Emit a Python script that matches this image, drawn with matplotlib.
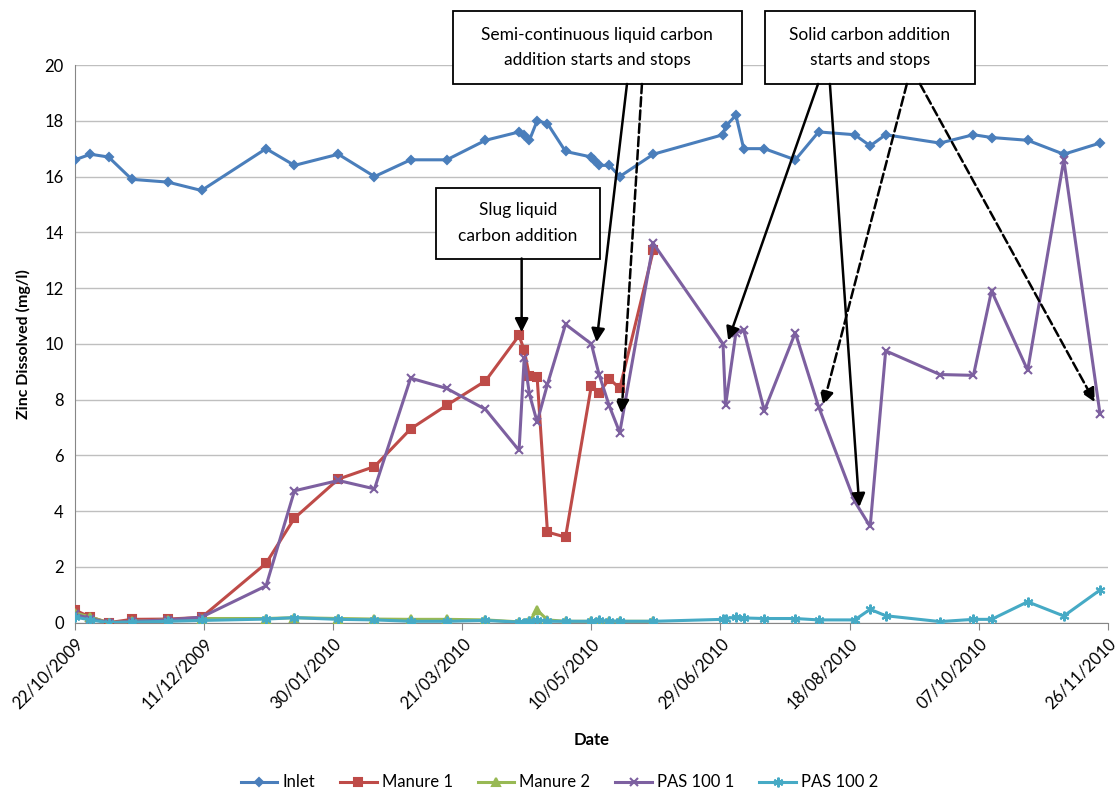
import matplotlib
matplotlib.use("Agg")
import matplotlib.pyplot as plt
import matplotlib.dates as mdates
from matplotlib.patches import Rectangle
import numpy as np
import pandas as pd

plt.rcParams['font.family'] = ['Lato', 'DejaVu Sans']

# sampling dates (shared by every series, NaN = no sample)
dates = ["2009-10-22", "2009-10-28", "2009-11-04", "2009-11-13", "2009-11-27", "2009-12-10",
         "2010-01-04", "2010-01-15", "2010-02-01", "2010-02-15", "2010-03-01", "2010-03-15",
         "2010-03-30", "2010-04-12", "2010-04-14", "2010-04-16", "2010-04-19", "2010-04-23",
         "2010-04-30", "2010-05-10", "2010-05-11", "2010-05-13", "2010-05-17", "2010-05-21",
         "2010-06-03", "2010-06-30", "2010-07-01", "2010-07-05", "2010-07-08", "2010-07-16",
         "2010-07-28", "2010-08-06", "2010-08-20", "2010-08-26", "2010-09-01", "2010-09-22",
         "2010-10-05", "2010-10-12", "2010-10-26", "2010-11-09", "2010-11-23"]
nan = np.nan

inlet = [16.6, 16.8, 16.7, 15.9, 15.8, 15.5, 17.0, 16.4, 16.8, 16.0, 16.6, 16.6,
         17.3, 17.6, 17.5, 17.3, 18.0, 17.9, 16.9, 16.7, 16.6, 16.4, 16.4, 16.0,
         16.8, 17.5, 17.8, 18.2, 17.0, 17.0, 16.6, 17.6, 17.5, 17.1, 17.5, 17.2,
         17.5, 17.4, 17.3, 16.8, 17.2]
manure1 = [0.45, 0.2, 0.0, 0.12, 0.13, 0.19, 2.13, 3.75, 5.15, 5.6, 6.95, 7.8,
           8.67, 10.3, 9.77, 8.83, 8.8, 3.25, 3.07, 8.5, nan, 8.25, 8.75, 8.4,
           13.35, nan, nan, nan, nan, nan, nan, nan, nan, nan, nan, nan,
           nan, nan, nan, nan, nan]
manure2 = [0.35, 0.2, 0.0, 0.05, 0.1, 0.15, 0.15, 0.18, 0.15, 0.13, 0.12, 0.12,
           0.1, 0.03, 0.0, 0.05, 0.45, 0.1, 0.05, 0.05, nan, 0.05, 0.05, 0.05,
           0.05, nan, nan, nan, nan, nan, nan, nan, nan, nan, nan, nan,
           nan, nan, nan, nan, nan]
pas1001 = [0.3, 0.15, 0.0, 0.05, 0.1, 0.2, 1.32, 4.73, 5.1, 4.8, 8.77, 8.4,
           7.65, 6.18, 9.5, 8.2, 7.2, 8.55, 10.7, 10.0, nan, 8.9, 7.76, 6.82,
           13.6, 10.0, 7.8, 10.4, 10.5, 7.6, 10.4, 7.75, 4.35, 3.45, 9.75, 8.9,
           8.87, 11.9, 9.05, 16.6, 7.5]
pas1002 = [0.2, 0.1, 0.0, 0.02, 0.05, 0.08, 0.13, 0.18, 0.12, 0.1, 0.05, 0.05,
           0.08, 0.02, 0.0, 0.05, 0.1, 0.05, 0.05, 0.05, nan, 0.08, 0.06, 0.05,
           0.05, 0.12, 0.15, 0.2, 0.17, 0.15, 0.15, 0.1, 0.1, 0.48, 0.25, 0.04,
           0.12, 0.12, 0.75, 0.24, 1.17]

tick_labels = ["22/10/2009", "11/12/2009", "30/01/2010", "21/03/2010", "10/05/2010",
               "29/06/2010", "18/08/2010", "07/10/2010", "26/11/2010"]

series = [
    ("Inlet", inlet, "#4a7ebb", "D", 4.5),
    ("Manure 1", manure1, "#be4b48", "s", 6),
    ("Manure 2", manure2, "#98b954", "^", 6),
    ("PAS 100 1", pas1001, "#7d60a0", "x", 6),
    ("PAS 100 2", pas1002, "#46aac5", (6, 2, 0), 7),
]

x = pd.to_datetime(dates)
start = pd.Timestamp("2009-10-22")

def dnum(day):
    return mdates.date2num(start + pd.Timedelta(days=day))

fig = plt.figure(figsize=(11.19, 7.92), dpi=100)
ax = fig.add_axes([75 / 1119, 1 - 622.7 / 792, (1107.7 - 75) / 1119, (622.7 - 65) / 792])

for name, vals, col, mk, ms in series:
    v = np.array(vals, dtype=float)
    ok = ~np.isnan(v)
    ax.plot(x[ok], v[ok], color=col, lw=2.2, marker=mk, ms=ms, mew=1.5,
            mec=col, mfc=col, label=name, zorder=3)

ticks = pd.to_datetime(tick_labels, format="%d/%m/%Y")
ax.set_xlim(ticks[0], ticks[-1])
ax.set_xticks(ticks)
ax.set_xticklabels(tick_labels, rotation=45, ha="right", rotation_mode="anchor", fontsize=12)
ax.set_ylim(0, 20)
ax.set_yticks(range(0, 21, 2))
ax.tick_params(axis="y", labelsize=12, length=0, pad=8)
ax.tick_params(axis="x", length=5, color="#868686", pad=4)
ax.grid(axis="y", color="#bfbfbf", lw=1)
ax.set_axisbelow(True)
for s in ["top", "right"]:
    ax.spines[s].set_visible(False)
ax.spines["left"].set_color("#868686")
ax.spines["bottom"].set_color("#868686")

ax.set_ylabel("Zinc Dissolved (mg/l)", fontsize=11.5, fontweight="bold", labelpad=10)
ax.set_xlabel("Date", fontsize=12, fontweight="bold", labelpad=15)

# annotation boxes
boxes = [
    (146.4, 258.3, 19.32, 21.93, "Semi-continuous liquid carbon\naddition starts and stops"),
    (267.2, 348.5, 19.32, 21.93, "Solid carbon addition\nstarts and stops"),
    (139.8, 203.3, 13.06, 15.6, "Slug liquid\ncarbon addition"),
]
for d0, d1, y0, y1, txt in boxes:
    ax.add_patch(Rectangle((dnum(d0), y0), dnum(d1) - dnum(d0), y1 - y0, facecolor="white",
                           edgecolor="black", lw=1.3, clip_on=False, zorder=5))
    ax.text(dnum((d0 + d1) / 2), (y0 + y1) / 2, txt, ha="center", va="center",
            fontsize=12.5, linespacing=1.75, zorder=6, clip_on=False)

arrows = [
    (173.0, 13.06, 173.0, 10.42, "-"),
    (213.8, 19.32, 202.0, 10.06, "-"),
    (219.6, 19.32, 211.7, 7.5, "--"),
    (287.8, 19.32, 253.0, 10.12, "-"),
    (292.4, 19.32, 303.8, 4.15, "-"),
    (322.2, 19.32, 289.8, 7.8, "--"),
    (327.3, 19.32, 395.0, 7.91, "--"),
]
for xt, yt, xh, yh, ls in arrows:
    ax.annotate("", xy=(dnum(xh), yh), xytext=(dnum(xt), yt),
                arrowprops=dict(arrowstyle="-|>", color="black", lw=1.8, ls=ls,
                                mutation_scale=20, shrinkA=0, shrinkB=0),
                zorder=6, annotation_clip=False)

fig.legend(loc="lower center", bbox_to_anchor=(0.5, -0.017), ncol=5, frameon=False,
           fontsize=12, handlelength=2.2, columnspacing=1.5, handletextpad=0.3)

fig.savefig("out.png", dpi=100)
